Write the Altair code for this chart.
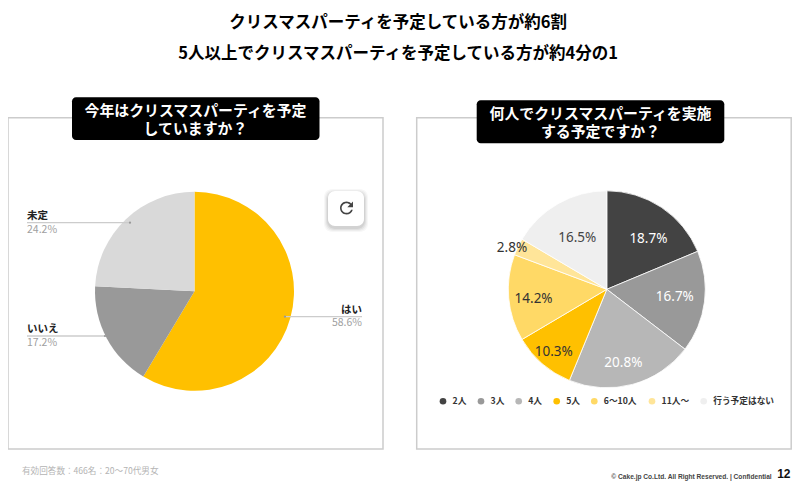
import altair as alt
import pandas as pd

JP = "Noto Sans CJK JP"

# ---- chart values ----
headline = ["クリスマスパーティを予定している方が約6割",
            "5人以上でクリスマスパーティを予定している方が約4分の1"]
left_title = "今年はクリスマスパーティを予定\nしていますか？"
right_title = "何人でクリスマスパーティを実施\nする予定ですか？"

left_cats = ["はい", "いいえ", "未定"]
left_vals = [58.6, 17.2, 24.2]
left_cols = ["#FFC000", "#999999", "#D9D9D9"]

right_cats = ["2人", "3人", "4人", "5人", "6〜10人", "11人〜", "行う予定はない"]
right_vals = [18.7, 16.7, 20.8, 10.3, 14.2, 2.8, 16.5]
right_cols = ["#434343", "#999999", "#B7B7B7", "#FFC000", "#FFD966", "#FFE599", "#EFEFEF"]
right_text = ["#FFFFFF", "#FFFFFF", "#FFFFFF", "#333333", "#333333", "#333333", "#444444"]

footnote = "有効回答数：466名：20〜70代男女"
copyright_text = "© Cake.jp Co.Ltd. All Right Reserved. | Confidential"
page_no = "12"

W, H = 784, 473
def X(v): return alt.value(v - 8)
def Y(v): return alt.value(v - 8)
one = pd.DataFrame({"a": [0]})
theta_scale = alt.Scale(domain=[0, 100])

def text(s, x, y, size, color="#000000", weight="bold", align="left", font=JP, **kw):
    return alt.Chart(pd.DataFrame({"t": [s]})).mark_text(
        font=font, fontSize=size, fontWeight=weight, color=color, align=align,
        baseline="middle", **kw
    ).encode(text="t:N", x=X(x), y=Y(y))

def box(x0, x1, y0, y1, **kw):
    return alt.Chart(one).mark_rect(**kw).encode(x=X(x0), x2=X(x1), y=Y(y0), y2=Y(y1))

def rule(x0, x1, y):
    return alt.Chart(one).mark_rule(color="#CCCCCC", strokeWidth=1.3).encode(x=X(x0), x2=X(x1), y=Y(y))

def nub(x, y):
    return alt.Chart(one).mark_point(shape="circle", size=5, filled=True, color="#999999", opacity=1).encode(x=X(x), y=Y(y))

layers = []

# panel frames
layers.append(box(8, 383, 117.7, 449, fill="#FFFFFF", stroke="#CCCCCC", strokeWidth=1.5))
layers.append(box(416.7, 791.2, 117.7, 449, fill="#FFFFFF", stroke="#CCCCCC", strokeWidth=1.5))

# left pie
left_df = pd.DataFrame({"c": left_cats, "v": left_vals, "i": range(3)})
layers.append(
    alt.Chart(left_df).mark_arc(radius=99.5).encode(
        theta=alt.Theta("v:Q", scale=theta_scale, stack=True),
        order=alt.Order("i:Q"),
        fill=alt.Fill("c:N", scale=alt.Scale(domain=left_cats, range=left_cols), legend=None),
        x=X(194.5), y=Y(291.3),
    )
)

# right pie
right_df = pd.DataFrame({"c": right_cats, "v": right_vals, "i": range(7)})
fill_scale = alt.Scale(domain=right_cats, range=right_cols)
layers.append(
    alt.Chart(right_df).mark_arc(radius=98.5, stroke="#FFFFFF", strokeWidth=0.8).encode(
        theta=alt.Theta("v:Q", scale=theta_scale, stack=True),
        order=alt.Order("i:Q"),
        fill=alt.Fill("c:N", scale=fill_scale, legend=None),
        x=X(606.8), y=Y(289.3),
    )
)

# right pie value labels, placed on each slice's own angle
label_place = [(66, 5, 5), (68.6, 0, -1), (75, -3, 1), (81, 0, 1), (73.5, 0, 3), (104, -1, 4), (59.7, 0, 1)]
running = 0.0
for val, col, (rad, ddx, ddy) in zip(right_vals, right_text, label_place):
    d = pd.DataFrame({"mid": [running + val / 2], "t": [f"{val}%"]})
    layers.append(
        alt.Chart(d).mark_text(font="Noto Sans", fontSize=13.5, color=col, radius=rad, dx=ddx, dy=ddy,
                               align="center", baseline="middle").encode(
            theta=alt.Theta("mid:Q", scale=theta_scale, stack=None),
            text="t:N", x=X(606.8), y=Y(289.3),
        )
    )
    running += val

# legend row under the right pie
legend_dot_x = [443, 481, 518.7, 556.7, 594.3, 652, 703.7]
for cat, col, dx0 in zip(right_cats, right_cols, legend_dot_x):
    layers.append(alt.Chart(one).mark_point(shape="circle", size=44, filled=True, color=col, opacity=1)
                  .encode(x=X(dx0), y=Y(401.3)))
    layers.append(text(cat, dx0 + 9.5, 401.3, 8.7, "#333333"))

# left pie callouts
layers += [
    rule(27, 130, 222.7), rule(27, 105, 336), rule(285, 362, 316.7),
    nub(130, 222.7), nub(105, 336), nub(285, 316.7),
    text(left_cats[2], 27, 216, 10.5, "#222222"),
    text(f"{left_vals[2]}%", 27, 230, 10.5, "#A0A0A0", weight="normal"),
    text(left_cats[1], 27, 329, 10.5, "#222222"),
    text(f"{left_vals[1]}%", 27, 342.5, 10.5, "#A0A0A0", weight="normal"),
    text(left_cats[0], 362, 309.5, 10.5, "#222222", align="right"),
    text(f"{left_vals[0]}%", 362, 323.2, 10.5, "#A0A0A0", weight="normal", align="right"),
]

# panel title boxes
layers.append(box(72, 319.5, 97.3, 140, fill="#000000", cornerRadius=4))
layers.append(box(476.7, 724.3, 100.3, 143.3, fill="#000000", cornerRadius=4))
layers.append(text(left_title, 195.5, 111.5, 14.9, "#FFFFFF", align="center", lineBreak="\n", lineHeight=18))
layers.append(text(right_title, 600.5, 114.5, 14.9, "#FFFFFF", align="center", lineBreak="\n", lineHeight=18))

# headline
layers.append(text(headline[0], 398, 23, 16.5, align="center"))
layers.append(text(headline[1], 398, 54, 16.5, align="center"))

# reload button
for grow, op in [(4, 0.03), (3, 0.04), (2, 0.05), (1, 0.06)]:
    layers.append(box(328 - grow, 364 + grow, 191 - grow + 2, 226 + grow + 2,
                      fill="#000000", opacity=op, cornerRadius=8))
layers.append(box(328, 364, 191, 226, fill="#FFFFFF", cornerRadius=7))
refresh_path = ("M.4708 -.4708C.35 -.5917 .1842 -.6667 0 -.6667c-.3683 0-.6658 .2983-.6658 .6667"
                "s.2975 .6667 .6658 .6667c.3108 0 .57-.2125 .6442-.5h-.1733c-.0683 .1942-.2533 .3333-.4708 .3333"
                "c-.2758 0-.5-.2242-.5-.5s.2242-.5 .5-.5c.1383 0 .2617 .0575 .3517 .1483L.0833 -.0833H.6667V-.6667l-.1958 .1958z")
layers.append(alt.Chart(one).mark_point(shape=refresh_path, size=380, filled=True, color="#444444", opacity=1)
              .encode(x=X(346.5), y=Y(208)))

# footer
layers.append(text(footnote, 22, 471, 8.6, "#B4B4B4", weight="normal"))
layers.append(text(copyright_text, 771.7, 476.5, 6.6, "#444444", align="right", font="Liberation Sans"))
layers.append(text(page_no, 790.5, 474, 12, "#111111", align="right", font="Liberation Sans"))

chart = (
    alt.layer(*layers)
    .resolve_scale(fill="independent")
    .properties(width=W, height=H, padding=0, autosize=alt.AutoSizeParams(type="none"),
                background="#FFFFFF")
    .configure_view(stroke=None)
)

chart.save("out.html", embed_options={"renderer": "svg", "actions": False})
